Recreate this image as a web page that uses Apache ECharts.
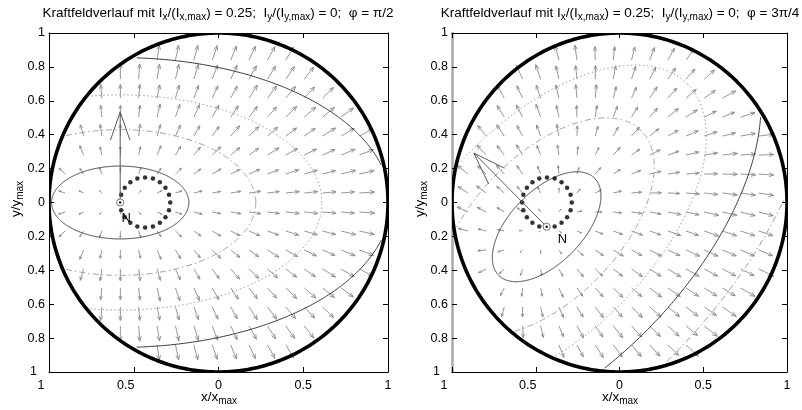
<!DOCTYPE html>
<html><head><meta charset="utf-8">
<script src="https://cdn.jsdelivr.net/npm/echarts@6/dist/echarts.min.js"></script>
<style>html,body{margin:0;padding:0;background:#fff}#c{width:802px;height:410px}</style>
</head><body><div id="c"></div>
<script>
// ---------- data ----------
const xTicks = [-1, -0.5, 0, 0.5, 1];
const yTicks = [-1, -0.8, -0.6, -0.4, -0.2, 0, 0.2, 0.4, 0.6, 0.8, 1];
// quiver grid
const colX = [-0.905,-0.796,-0.688,-0.579,-0.471,-0.362,-0.254,-0.145,-0.037,0.072,0.180,0.289,0.397,0.506,0.614,0.723,0.831,0.940];
const rowY = [0.84,0.728,0.616,0.504,0.392,0.28,0.168,0.056,-0.056,-0.168,-0.28,-0.392,-0.504,-0.616,-0.728,-0.84];
// arrows: "angle(deg),length(1/100 axis units)" per grid cell, "." = no arrow
const fieldLeft = [
". . . . . 82,9 78,9 75,9 71,9 68,9 65,9 61,9 59,9 . . . . .",
". . . 90,9 86,9 81,9 77,9 73,9 69,9 65,9 61,9 58,9 55,9 52,9 . . . .",
". . 95,8 90,8 85,8 79,8 74,8 70,8 65,8 61,8 57,9 53,9 50,9 47,9 44,9 . . .",
". . 96,7 90,7 84,7 77,8 71,8 66,8 61,8 56,8 52,8 48,8 44,9 41,9 39,9 36,9 . .",
". 106,7 98,7 90,7 82,7 74,7 66,7 60,7 54,7 49,8 44,8 41,8 37,8 35,8 32,9 30,9 28,9 .",
". 112,6 102,5 90,5 78,5 68,6 59,6 51,6 44,7 39,7 35,7 32,8 29,8 26,8 24,8 22,9 21,9 .",
"136,5 124,4 109,4 90,4 71,4 56,4 44,5 36,5 30,6 26,6 23,7 20,7 18,8 16,8 15,8 14,9 13,9 .",
"162,4 154,3 136,2 90,1 44,2 26,3 18,4 14,5 11,5 9,6 8,7 7,7 6,8 6,8 5,8 5,8 4,9 .",
"-162,4 -154,3 -136,2 -90,1 -44,2 -26,3 -18,4 -14,5 -11,5 -9,6 -8,7 -7,7 -6,8 -6,8 -5,8 -5,8 -4,9 .",
"-136,5 -124,4 -109,4 -90,4 -71,4 -56,4 -44,5 -36,5 -30,6 -26,6 -23,7 -20,7 -18,8 -16,8 -15,8 -14,9 -13,9 .",
". -112,6 -102,5 -90,5 -78,5 -68,6 -59,6 -51,6 -44,7 -39,7 -35,7 -32,8 -29,8 -26,8 -24,8 -22,9 -21,9 .",
". -106,7 -98,7 -90,7 -82,7 -74,7 -66,7 -60,7 -54,7 -49,8 -44,8 -41,8 -37,8 -35,8 -32,9 -30,9 -28,9 .",
". . -96,7 -90,7 -84,7 -77,8 -71,8 -66,8 -61,8 -56,8 -52,8 -48,8 -44,9 -41,9 -39,9 -36,9 . .",
". . -95,8 -90,8 -85,8 -79,8 -74,8 -70,8 -65,8 -61,8 -57,9 -53,9 -50,9 -47,9 -44,9 . . .",
". . . -90,9 -86,9 -81,9 -77,9 -73,9 -69,9 -65,9 -61,9 -58,9 -55,9 -52,9 . . . .",
". . . . . -82,9 -78,9 -75,9 -71,9 -68,9 -65,9 -61,9 -59,9 . . . . ."
];
const fieldRight = [
". . . . . 104,9 98,9 91,8 84,8 76,8 69,8 61,8 54,8 . . . . .",
". . . 114,9 109,9 103,8 96,8 89,8 80,8 72,8 63,8 55,8 48,8 41,8 . . . .",
". . 120,9 115,8 109,8 103,8 95,8 85,8 76,7 66,7 56,8 48,8 40,8 34,8 28,9 . . .",
". . 122,8 117,8 110,8 102,7 92,7 81,7 69,7 58,7 48,7 39,8 32,8 26,8 21,8 17,9 . .",
". 129,8 124,8 118,7 110,7 100,7 88,6 74,6 61,6 48,7 38,7 29,7 23,8 18,8 13,8 10,9 7,9 .",
". 133,8 128,7 121,7 111,6 98,6 82,5 64,5 48,6 35,6 26,7 19,7 13,8 9,8 6,9 4,9 2,9 .",
"141,8 137,7 132,7 124,6 112,5 95,5 72,4 49,5 32,5 21,6 13,7 8,7 4,8 1,8 -1,9 -3,9 -4,9 .",
"147,7 144,7 139,6 130,5 115,4 86,3 50,3 26,4 13,5 5,6 1,7 -2,7 -4,8 -6,8 -7,9 -8,9 -9,9 .",
"155,7 153,6 149,5 142,4 123,2 54,2 11,3 -1,4 -6,5 -8,6 -10,7 -11,8 -12,8 -13,9 -13,9 -14,9 -14,9 .",
"165,6 166,5 168,4 172,2 -154,1 -31,2 -23,3 -21,5 -20,6 -20,7 -19,7 -19,8 -19,8 -19,9 -18,9 -18,9 -18,9 .",
". -175,5 -164,4 -138,2 -87,2 -54,3 -41,5 -34,6 -31,7 -28,7 -27,8 -25,8 -24,9 -24,9 -23,9 -23,9 -22,9 .",
". -154,5 -136,4 -108,4 -80,4 -61,5 -50,6 -43,6 -38,7 -35,8 -32,8 -31,9 -29,9 -28,9 -27,9 -26,9 -26,10 .",
". . -117,5 -96,5 -78,5 -64,6 -55,6 -48,7 -44,8 -40,8 -37,9 -35,9 -33,9 -32,9 -31,9 -30,10 . .",
". . -105,6 -90,6 -77,6 -66,7 -58,7 -52,8 -48,8 -44,9 -41,9 -39,9 -37,9 -35,9 -34,10 . . .",
". . . -86,7 -76,7 -67,7 -61,8 -55,8 -51,9 -47,9 -44,9 -42,9 -40,9 -38,10 . . . .",
". . . . . -68,8 -62,8 -57,9 -53,9 -50,9 -47,9 -44,9 -42,10 . . . . ."
];
// point N, force arrow (angle deg, length), label position
const nLeft = [-0.58, 0], nRight = [-0.435, -0.143];
const forceLeft = [90, 0.535], forceRight = [135, 0.615];
const labelLeft = [-0.545, -0.095], labelRight = [-0.34, -0.215];
// contour ellipses around N (semi-axes), orientation per plot
const contourA = [0.405, 0.8, 1.19, 1.594, 2.0];
const contourB = [0.215, 0.43, 0.635, 0.855, 1.07];
const contourStyle = ['solid', 'dashdot', 'dotted', 'solid', 'dashdot'];
const rotLeft = 0, rotRight = 45;
// dotted path of N
const pathX = [-0.285,-0.292,-0.313,-0.346,-0.387,-0.433,-0.479,-0.520,-0.553,-0.574,-0.581,-0.574,-0.553,-0.520,-0.479,-0.433,-0.387,-0.346,-0.313,-0.292];
const pathY = [0,0.046,0.087,0.120,0.141,0.148,0.141,0.120,0.087,0.046,0,-0.046,-0.087,-0.120,-0.141,-0.148,-0.141,-0.120,-0.087,-0.046];

// ---------- rendering ----------
const FONT = '"Liberation Sans", Arial, Helvetica, sans-serif';
const chart = echarts.init(document.getElementById('c'), null, {renderer: 'canvas'});

function parseField(rows) {
  const out = [];
  rows.forEach((s, ri) => {
    s.trim().split(/\s+/).forEach((tok, ci) => {
      if (tok === '.') return;
      const p = tok.split(',').map(Number);
      out.push([colX[ci], rowY[ri], p[0], p[1]]);
    });
  });
  return out;
}
function arrowPts(p0, p1, frac, headDeg) {
  const dx = p1[0] - p0[0], dy = p1[1] - p0[1], len = Math.hypot(dx, dy);
  if (len < 0.3) return null;
  const ux = dx / len, uy = dy / len, hl = len * frac, t = headDeg * Math.PI / 180;
  const c = Math.cos(t), s = Math.sin(t);
  const b1 = [p1[0] + hl * (-ux * c + uy * s), p1[1] + hl * (-ux * s - uy * c)];
  const b2 = [p1[0] + hl * (-ux * c - uy * s), p1[1] + hl * (ux * s - uy * c)];
  return [[p0, p1], [b1, p1, b2]];
}
const absStr = v => String(Math.round(Math.abs(v) * 10) / 10);
const fmtX = v => v < 0 ? '{l|' + absStr(v) + '}' : '{c|' + absStr(v) + '}';
const fmtY = v => v <= -0.999 ? '{l|' + absStr(v) + '}' : '{c|' + absStr(v) + '}';
const labRich = (pad) => ({
  l: {fontSize: 12.5, color: '#000', fontFamily: FONT, padding: pad},
  c: {fontSize: 12.5, color: '#000', fontFamily: FONT}
});

function axesFor(gi, leftSpine) {
  const tick = {show: true, inside: true, length: 5, lineStyle: {color: '#000', width: 1}};
  const line = {show: true, onZero: false, lineStyle: {color: '#000', width: 1}};
  const xs = [
    {gridIndex: gi, type: 'value', min: -1, max: 1, interval: 0.5, position: 'bottom',
     axisLine: line, axisTick: tick, splitLine: {show: false},
     axisLabel: {formatter: fmtX, rich: labRich([0, 16, 0, 0]), fontSize: 12.5, color: '#000', fontFamily: FONT, margin: 7, showMinLabel: true, showMaxLabel: true}},
    {gridIndex: gi, type: 'value', min: -1, max: 1, interval: 0.5, position: 'top',
     axisLine: line, axisTick: tick, splitLine: {show: false}, axisLabel: {show: false}}
  ];
  const ys = [
    {gridIndex: gi, type: 'value', min: -1, max: 1, interval: 0.2, position: 'left',
     axisLine: {show: true, onZero: false, lineStyle: leftSpine}, axisTick: tick, splitLine: {show: false},
     axisLabel: {formatter: fmtY, rich: labRich([0, 8, 0, 0]), fontSize: 12.5, color: '#000', fontFamily: FONT, margin: 4, showMinLabel: true, showMaxLabel: true}},
    {gridIndex: gi, type: 'value', min: -1, max: 1, interval: 0.2, position: 'right',
     axisLine: line, axisTick: tick, splitLine: {show: false}, axisLabel: {show: false}}
  ];
  return {xs, ys};
}

function plotSeries(gi, field, N, force, label, rot) {
  const ax = {xAxisIndex: gi * 2, yAxisIndex: gi * 2};
  const series = [];
  // quiver
  series.push(Object.assign({
    type: 'custom', clip: true, z: 2, data: parseField(field),
    renderItem(params, api) {
      const x = api.value(0), y = api.value(1), a = api.value(2) * Math.PI / 180, L = api.value(3) / 100;
      const p0 = api.coord([x, y]), p1 = api.coord([x + L * Math.cos(a), y + L * Math.sin(a)]);
      const pts = arrowPts(p0, p1, 0.33, 22);
      if (!pts) return null;
      const st = {stroke: '#8a8a8a', lineWidth: 0.9, fill: null};
      return {type: 'group', children: pts.map(p => ({type: 'polyline', shape: {points: p}, style: st}))};
    }
  }, ax));
  // contour ellipses
  series.push(Object.assign({
    type: 'custom', clip: true, z: 3, data: contourA.map((a, i) => [N[0], N[1], i]),
    renderItem(params, api) {
      const i = api.value(2), A = contourA[i], B = contourB[i];
      const r = rot * Math.PI / 180, cr = Math.cos(r), sr = Math.sin(r);
      const segs = []; let cur = [];
      for (let k = 0; k <= 720; k++) {
        const t = k * Math.PI / 360;
        const lx = A * Math.cos(t), ly = B * Math.sin(t);
        const x = N[0] + lx * cr - ly * sr, y = N[1] + lx * sr + ly * cr;
        if (x * x + y * y <= 0.985 * 0.985) cur.push(api.coord([x, y]));
        else { if (cur.length > 1) segs.push(cur); cur = []; }
      }
      if (cur.length > 1) segs.push(cur);
      const kind = contourStyle[i];
      const st = kind === 'solid' ? {stroke: '#3a3a3a', lineWidth: 1, fill: null}
        : kind === 'dashdot' ? {stroke: '#9a9a9a', lineWidth: 1, fill: null, lineDash: [6, 3, 1.5, 3]}
        : {stroke: '#9a9a9a', lineWidth: 1, fill: null, lineDash: [1.5, 2.5]};
      return {type: 'group', children: segs.map(s => ({type: 'polyline', shape: {points: s}, style: st}))};
    }
  }, ax));
  // unit circle
  series.push(Object.assign({
    type: 'custom', clip: true, z: 4, data: [[0, 0]],
    renderItem(params, api) {
      const pts = [];
      for (let k = 0; k <= 360; k++) {
        const t = k * Math.PI / 180;
        pts.push(api.coord([Math.cos(t), Math.sin(t)]));
      }
      return {type: 'polyline', shape: {points: pts}, style: {stroke: '#000', lineWidth: 3.6, fill: null}};
    }
  }, ax));
  // dotted path of N
  series.push(Object.assign({
    type: 'scatter', z: 5, symbol: 'circle', symbolSize: 4.5,
    itemStyle: {color: '#000'}, data: pathX.map((x, i) => [x, pathY[i]])
  }, ax));
  // force arrow at N
  series.push(Object.assign({
    type: 'custom', clip: true, z: 6, data: [[N[0], N[1], force[0], force[1]]],
    renderItem(params, api) {
      const a = api.value(2) * Math.PI / 180, L = api.value(3);
      const p0 = api.coord([api.value(0), api.value(1)]);
      const p1 = api.coord([api.value(0) + L * Math.cos(a), api.value(1) + L * Math.sin(a)]);
      const pts = arrowPts(p0, p1, 0.33, 19);
      const st = {stroke: '#5a5a5a', lineWidth: 1, fill: null};
      return {type: 'group', children: pts.map(p => ({type: 'polyline', shape: {points: p}, style: st}))};
    }
  }, ax));
  // N marker
  series.push(Object.assign({
    type: 'custom', clip: true, z: 7, data: [[N[0], N[1]]],
    renderItem(params, api) {
      const p = api.coord([api.value(0), api.value(1)]);
      return {type: 'group', children: [
        {type: 'circle', shape: {cx: p[0], cy: p[1], r: 3.6}, style: {stroke: '#777', lineWidth: 1, fill: '#fff'}},
        {type: 'circle', shape: {cx: p[0], cy: p[1], r: 1.3}, style: {fill: '#222'}}
      ]};
    }
  }, ax));
  // N label
  series.push(Object.assign({
    type: 'custom', clip: false, z: 8, data: [label],
    renderItem(params, api) {
      const p = api.coord([api.value(0), api.value(1)]);
      return {type: 'text', x: p[0], y: p[1], style: {text: 'N', fontSize: 13, fontFamily: FONT, fill: '#000', align: 'center', verticalAlign: 'middle'}};
    }
  }, ax));
  return series;
}

const a0 = axesFor(0, {color: '#000', width: 1});
const a1 = axesFor(1, {color: '#a8a8a8', width: 2.5});
const rich = {
  n: {fontSize: 13.5, fontFamily: FONT, fill: '#000', color: '#000', verticalAlign: 'top', lineHeight: 15},
  s: {fontSize: 10, fontFamily: FONT, fill: '#000', color: '#000', verticalAlign: 'top', lineHeight: 11, padding: [6, 0, 0, 0]}
};
const titleText = phi => '{n|Kraftfeldverlauf mit I}{s|x}{n|/(I}{s|x,max}{n|) = 0.25;  I}{s|y}{n|/(I}{s|y,max}{n|) = 0;  φ = ' + phi + '}';
function txt(x, y, text, rotation) {
  return {type: 'text', x, y, rotation: rotation || 0, z: 10,
    style: {text, rich, align: 'center', verticalAlign: 'middle', fontFamily: FONT, fontSize: 13, fill: '#000'}};
}

chart.setOption({
  animation: false,
  backgroundColor: '#fff',
  grid: [
    {left: 49, top: 33, width: 339, height: 339},
    {left: 452, top: 33, width: 335, height: 339}
  ],
  xAxis: a0.xs.concat(a1.xs),
  yAxis: a0.ys.concat(a1.ys),
  graphic: [
    txt(218, 14, titleText('π/2')),
    txt(620, 14, titleText('3π/4')),
    txt(219, 398, '{n|x/x}{s|max}'),
    txt(620, 398, '{n|x/x}{s|max}'),
    txt(17, 199, '{n|y/y}{s|max}', Math.PI / 2),
    txt(421, 199, '{n|y/y}{s|max}', Math.PI / 2)
  ],
  series: plotSeries(0, fieldLeft, nLeft, forceLeft, labelLeft, rotLeft)
    .concat(plotSeries(1, fieldRight, nRight, forceRight, labelRight, rotRight))
});
</script>
</body></html>
